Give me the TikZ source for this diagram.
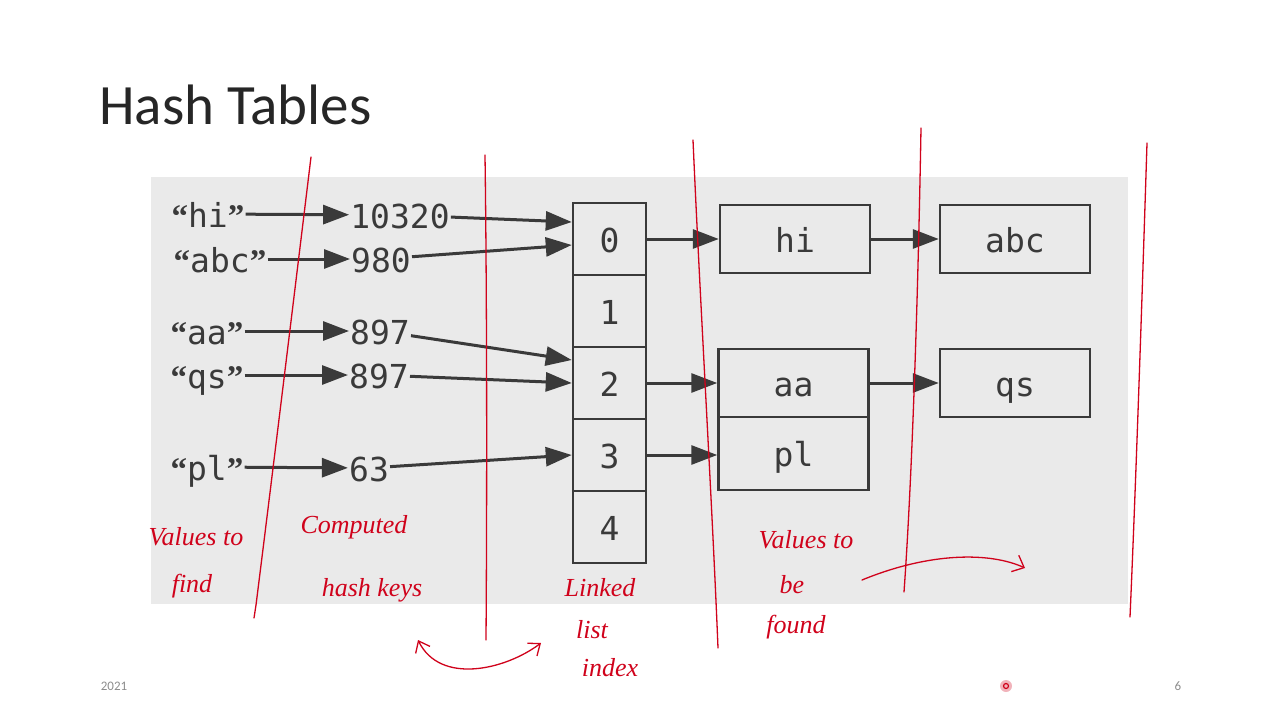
\documentclass[tikz,border=0pt]{standalone}
\usepackage{fontspec}
\setmainfont{Carlito}
\newfontfamily\codefont{DejaVu Sans Mono}
\newfontfamily\handfont{Liberation Serif}
\usetikzlibrary{arrows.meta, positioning}
\definecolor{inkGrey}{HTML}{3A3A3A}
\definecolor{paperGrey}{HTML}{EAEAEA}
\definecolor{penRed}{HTML}{D0021B}
\definecolor{footGrey}{HTML}{8C8C8C}
\newcommand{\quoted}[1]{{\handfont\bfseries“}#1{\handfont\bfseries”}}

\begin{document}
\begin{tikzpicture}[x=1pt, y=-1pt,
    word/.style={font=\codefont\fontsize{33}{33}\selectfont, text=inkGrey, inner sep=1pt,
      text height=26pt, text depth=0pt},
    cell/.style={word, draw=inkGrey, line width=2.5pt, minimum width=73pt, minimum height=72pt},
    item/.style={cell, minimum width=150pt, minimum height=68pt},
    link/.style={draw=inkGrey, line width=3pt, -{Triangle[length=26pt,width=19pt]}},
    note/.style={font=\handfont\itshape\fontsize{26}{26}\selectfont, text=penRed, inner sep=0pt},
    pen/.style={draw=penRed, line width=1.3pt, line cap=round}]
  \useasboundingbox (0,0) rectangle (1280,720);
  \fill[paperGrey] (151,177) rectangle (1128,604);

  % slide text
  \node[anchor=base west, inner sep=0pt, font=\fontsize{57}{57}\selectfont, text=black!85] (title) at (99,124) {Hash Tables};
  \node[font=\fontsize{13}{13}\selectfont, text=footGrey] (year) at (114,686) {2021};
  \node[font=\fontsize{13}{13}\selectfont, text=footGrey] (page) at (1178,686) {6};

  % keys and hash values
  \node[word] (lhi) at (208,214) {\quoted{hi}};
  \node[word] (labc) at (220,259) {\quoted{abc}};
  \node[word] (laa) at (207,331) {\quoted{aa}};
  \node[word] (lqs) at (207,375) {\quoted{qs}};
  \node[word] (lpl) at (207,467) {\quoted{pl}};
  \node[word] (khi) at (400,215) {10320};
  \node[word] (kabc) at (381,259) {980};
  \node[word] (kaa) at (380,331) {897};
  \node[word] (kqs) at (379,375) {897};
  \node[word] (kpl) at (369,468) {63};

  % index array
  \node[cell] (c0) at (609.5,239) {0};
  \node[cell] (c1) at (609.5,311) {1};
  \node[cell] (c2) at (609.5,383) {2};
  \node[cell] (c3) at (609.5,455) {3};
  \node[cell] (c4) at (609.5,527) {4};

  % chained entries
  \node[item] (hi) at (795,239) {hi};
  \node[item] (abc) at (1015,239) {abc};
  \node[item, minimum height=68pt] (aa) at (793.5,383) {aa};
  \node[item, minimum height=73pt] (pl) at (793.5,453.5) {pl};
  \node[item] (qs) at (1015,383) {qs};

  \draw[link] (lhi) -- (khi);
  \draw[link] (labc) -- (kabc);
  \draw[link] (laa) -- (kaa);
  \draw[link] (lqs) -- (kqs);
  \draw[link] (lpl) -- (kpl);

  \draw[link] (khi) -- ([yshift=17pt]c0.west);
  \draw[link] (kabc) -- ([yshift=-6pt]c0.west);
  \draw[link] (kaa) -- ([yshift=23pt]c2.west);
  \draw[link] (kqs) -- (c2.west);
  \draw[link] (kpl) -- (c3.west);

  \draw[link] (c0.east) -- (hi.west);
  \draw[link] (c2.east) -- (aa.west);
  \draw[link] (c3.east) -- (c3.east -| pl.west);
  \draw[link] (hi.east) -- (abc.west);
  \draw[link] (aa.east) -- (qs.west);

  % pen marks
  \draw[pen] (311,157) .. controls (290,330) and (268,510) .. (256,605) -- (254,618);
  \draw[pen] (485,155) .. controls (487,300) and (487,500) .. (486,640);
  \draw[pen] (693,140) .. controls (700,300) and (712,500) .. (718,648);
  \draw[pen] (921,128) .. controls (918,300) and (912,480) .. (904,592);
  \draw[pen] (1147,143) .. controls (1142,300) and (1136,480) .. (1130,617);

  \node[note] (v1) at (196,537) {Values to};
  \node[note] (v2) at (192,586) {find};
  \node[note] (h1) at (354,527) {Computed};
  \node[note] (h2) at (372,590) {hash keys};
  \node[note] (i1) at (600,588) {Linked};
  \node[note] (i2) at (592,630) {list};
  \node[note] (i3) at (610,668) {index};
  \node[note] (f1) at (806,540) {Values to};
  \node[note] (f2) at (792,585) {be};
  \node[note] (f3) at (796,627) {found};

  \coordinate (hashend) at (418,640);
  \coordinate (listend) at (541,643);
  \coordinate (foundstart) at (862,580);
  \coordinate (foundend) at (1025,568);
  \draw[pen, {Straight Barb[length=10pt,width=16pt]}-{Straight Barb[length=10pt,width=16pt]}]
    (hashend) .. controls (440,685) and (505,670) .. (listend);
  \draw[pen, -{Straight Barb[length=10pt,width=18pt]}]
    (foundstart) .. controls (930,552) and (990,552) .. (foundend);

  % pointer
  \fill[penRed!30] (1006,686) circle (6pt);
  \draw[penRed, line width=1.2pt] (1006,686) circle (2.5pt);
\end{tikzpicture}
\end{document}
